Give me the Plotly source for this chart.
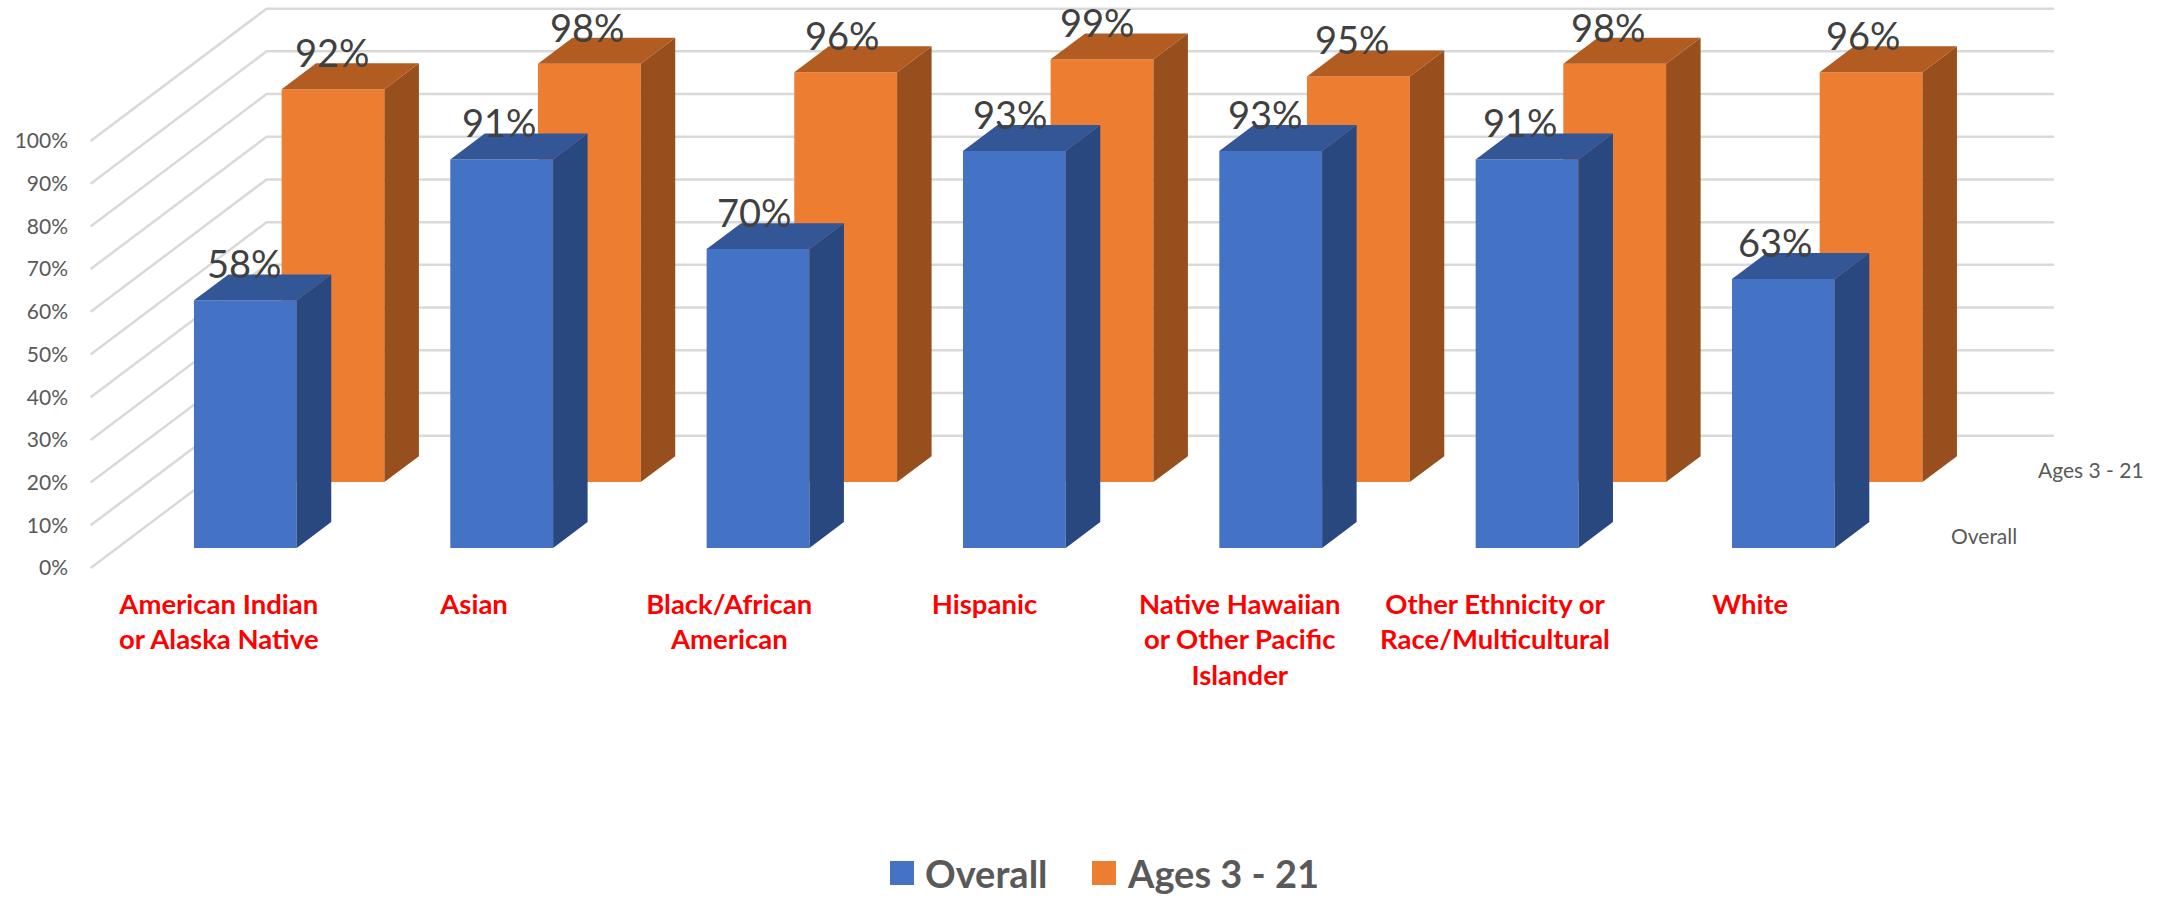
import plotly.graph_objects as go

categories = [
    "American Indian<br>or Alaska Native",
    "Asian",
    "Black/African<br>American",
    "Hispanic",
    "Native Hawaiian<br>or Other Pacific<br>Islander",
    "Other Ethnicity or<br>Race/Multicultural",
    "White",
]
overall = [58, 91, 70, 93, 93, 91, 63]
ages_3_21 = [92, 98, 96, 99, 95, 98, 96]
y_ticks = [0, 10, 20, 30, 40, 50, 60, 70, 80, 90, 100]

WIDTH, HEIGHT = 2168, 898
FONT = "Lato"

# fake 3D: oblique projection, depth 0 is the front of the floor and 1 the back wall
DEPTH_X = 0.6866  # category units
DEPTH_Y = 31.0  # percent units
BAR_W = 0.401
BLUE_DEPTH = (0.151, 0.347)
ORANGE_DEPTH = (0.649, 0.845)
LABEL_STEP = 0.9957  # text labels sit a touch tighter than the bars
WALL_RIGHT = 6.473

BLUE = dict(front="#4472C4", side="#2A4880", top="#335696")
ORANGE = dict(front="#ED7D31", side="#974F1D", top="#B35C22")


def project(x, depth, value):
    return x + depth * DEPTH_X, value + depth * DEPTH_Y


def polygons(faces):
    # join polygons with gaps so one trace can fill them all
    xs, ys = [], []
    for face in faces:
        for point in face + [face[0]]:
            xs.append(point[0])
            ys.append(point[1])
        xs.append(None)
        ys.append(None)
    return xs, ys


def add_series(fig, name, values, depth, colors):
    near, far = depth
    fig.add_trace(go.Bar(
        x=[project(i, near, 0)[0] for i in range(len(values))],
        y=values,
        base=near * DEPTH_Y,
        width=BAR_W,
        name=name,
        marker=dict(color=colors["front"], line=dict(width=0)),
        showlegend=False,
    ))
    sides, tops = [], []
    for i, v in enumerate(values):
        left, right = i - BAR_W / 2, i + BAR_W / 2
        sides.append([
            project(right, near, 0), project(right, far, 0),
            project(right, far, v), project(right, near, v),
        ])
        tops.append([
            project(left, near, v), project(right, near, v),
            project(right, far, v), project(left, far, v),
        ])
    for faces, color in ((sides, colors["side"]), (tops, colors["top"])):
        xs, ys = polygons(faces)
        fig.add_trace(go.Scatter(
            x=xs, y=ys, mode="lines", fill="toself", fillcolor=color,
            line=dict(width=0), hoverinfo="skip", showlegend=False,
        ))


fig = go.Figure()

# walls: diagonal up the side, then along the back. Shapes, so they stay under the bars
shapes = []
for v in y_ticks:
    x0, y0 = project(-0.5, 0, v)
    x1, y1 = project(-0.5, 1, v)
    x2, y2 = project(WALL_RIGHT, 1, v)
    shapes.append(dict(
        type="path", xref="x", yref="y", layer="below",
        path=f"M{x0},{y0} L{x1},{y1} L{x2},{y2}",
        line=dict(color="#D9D9D9", width=2.5),
    ))

add_series(fig, "Ages 3 - 21", ages_3_21, ORANGE_DEPTH, ORANGE)
add_series(fig, "Overall", overall, BLUE_DEPTH, BLUE)

annotations = []

# data labels
for values, depth in ((ages_3_21, ORANGE_DEPTH), (overall, BLUE_DEPTH)):
    for i, v in enumerate(values):
        x, y = project(i * LABEL_STEP, depth[0], v)
        annotations.append(dict(
            x=x, y=y, text=f"{v}%", showarrow=False, xshift=-1, yshift=37,
            xanchor="center", yanchor="middle",
            font=dict(family=FONT, size=38, color="#404040"),
        ))

# series axis labels
for name, depth in (("Overall", BLUE_DEPTH), ("Ages 3 - 21", ORANGE_DEPTH)):
    x, y = project(6.5, sum(depth) / 2, 0)
    annotations.append(dict(
        x=x, y=y, text=name, showarrow=False, xshift=20,
        xanchor="left", yanchor="middle",
        font=dict(family=FONT, size=21, color="#595959"),
    ))

# legend, drawn by hand because the native swatch stops growing at 16px
for name, color, box_left, text_left in (
    ("Overall", BLUE["front"], 890, 923),
    ("Ages 3 - 21", ORANGE["front"], 1092, 1125),
):
    shapes.append(dict(
        type="rect", xref="paper", yref="paper", line=dict(width=0), fillcolor=color,
        x0=box_left / WIDTH, x1=(box_left + 24) / WIDTH,
        y0=1 - 885 / HEIGHT, y1=1 - 861 / HEIGHT,
    ))
    annotations.append(dict(
        xref="paper", yref="paper", x=text_left / WIDTH, y=1 - 873 / HEIGHT,
        text=f"<b>{name}</b>", showarrow=False, xanchor="left", yanchor="middle",
        font=dict(family=FONT, size=38, color="#595959"),
    ))

fig.update_layout(
    width=WIDTH,
    height=HEIGHT,
    margin=dict(l=0, r=0, t=0, b=0),
    paper_bgcolor="rgba(0,0,0,0)",
    plot_bgcolor="rgba(0,0,0,0)",
    barmode="overlay",
    showlegend=False,
    shapes=shapes,
    annotations=annotations,
    xaxis=dict(
        domain=[72 / WIDTH, 1],
        range=[-0.5726, 7.604],
        tickvals=[i * LABEL_STEP for i in range(len(categories))],
        ticktext=[f"<b>{c}</b>" for c in categories],
        tickfont=dict(family=FONT, size=27.5, color="#FF0000"),
        showgrid=False, zeroline=False, showline=False, ticks="",
    ),
    yaxis=dict(
        domain=[1 - 585 / HEIGHT, 1],
        range=[-3.98, 133.02],
        tickvals=y_ticks,
        ticktext=[f"{v}%" for v in y_ticks],
        ticklabelstandoff=3,
        tickfont=dict(family=FONT, size=21, color="#595959"),
        showgrid=False, zeroline=False, showline=False, ticks="",
    ),
)

# the page's default 8px body margin would push the whole chart off target
fig.write_html(
    "out.html",
    config=dict(displayModeBar=False),
    post_script="document.body.style.margin = '0';",
)
